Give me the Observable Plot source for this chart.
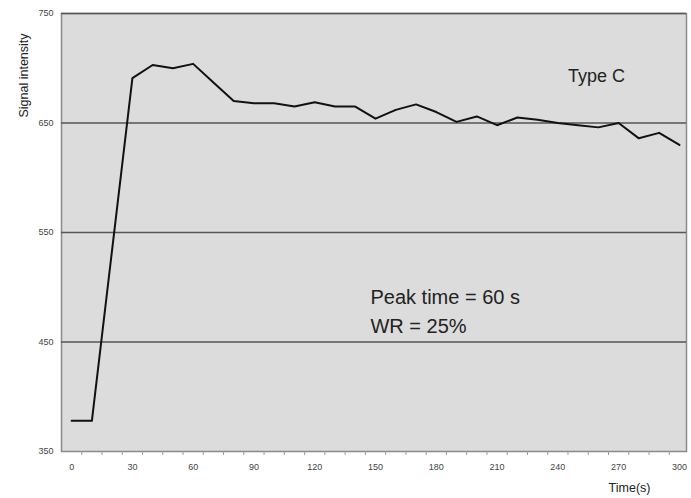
<!DOCTYPE html>
<html>
<head>
<meta charset="utf-8">
<script src="https://cdn.jsdelivr.net/npm/d3@7"></script>
<script src="https://cdn.jsdelivr.net/npm/@observablehq/plot@0.6"></script>
<style>
  html, body { margin: 0; padding: 0; background: #fff; }
</style>
</head>
<body>
<div id="chart"></div>
<script>
const times = [0, 10, 30, 40, 50, 60, 70, 80, 90, 100, 110, 120, 130, 140, 150, 160, 170, 180, 190, 200, 210, 220, 230, 240, 250, 260, 270, 280, 290, 300];
const intensity = [378, 378, 691, 703, 700, 704, 687, 670, 668, 668, 665, 669, 665, 665, 654, 662, 667, 660, 651, 656, 648, 655, 653, 650, 648, 646, 650, 636, 641, 630];
const xTicks = [0, 30, 60, 90, 120, 150, 180, 210, 240, 270, 300];
const xMinorTicks = [5, 15, 25, 35, 45, 55, 65, 75, 85, 95, 105, 115, 125, 135, 145, 155, 165, 175, 185, 195, 205, 215, 225, 235, 245, 255, 265, 275, 285, 295];
const yTicks = [350, 450, 550, 650, 750];
const gridLines = [450, 550, 650, 750];
const typeLabel = "Type C";
const noteLines = ["Peak time = 60 s", "WR = 25%"];

const data = times.map((t, i) => ({t, v: intensity[i]}));
const font = "Liberation Sans, Arial, sans-serif";

const chart = Plot.plot({
  width: 691,
  height: 498,
  marginLeft: 61,
  marginRight: 5,
  marginTop: 13,
  marginBottom: 47,
  style: {background: "#fff", fontFamily: font},
  x: {type: "linear", domain: [-5, 303.5]},
  y: {type: "linear", domain: [350, 750]},
  marks: [
    Plot.frame({fill: "#dcdcdc", stroke: "#8a8a8a", strokeWidth: 1.5}),
    Plot.ruleY(gridLines, {stroke: "#555", strokeWidth: 1.3}),
    Plot.axisX({ticks: xMinorTicks, tickSize: 4, stroke: "#999", text: null, label: null}),
    Plot.axisX({ticks: xTicks, tickSize: 0, tickPadding: 12, fontSize: 9, fill: "#444", label: null, tickFormat: d => d}),
    Plot.axisY({ticks: yTicks, tickSize: 0, tickPadding: 8, fontSize: 9, fill: "#444", label: null, tickFormat: d => d}),
    Plot.line(data, {x: "t", y: "v", stroke: "#111", strokeWidth: 2}),
    Plot.text([typeLabel], {x: 245, y: 693, text: d => d, textAnchor: "start", fontSize: 18, fill: "#222"}),
    Plot.text(noteLines, {x: 147.5, y: (d, i) => i === 0 ? 490.5 : 464, text: d => d, textAnchor: "start", fontSize: 20, fill: "#222"}),
    Plot.text(["Signal intensity"], {frameAnchor: "top-left", dx: -42, dy: 62, rotate: -90, textAnchor: "middle", text: d => d, fontSize: 12.5, fill: "#222"}),
    Plot.text(["Time(s)"], {frameAnchor: "bottom-right", dx: -57, dy: 40, textAnchor: "middle", text: d => d, fontSize: 12.5, fill: "#222"})
  ]
});
document.getElementById("chart").appendChild(chart);
</script>
</body>
</html>
